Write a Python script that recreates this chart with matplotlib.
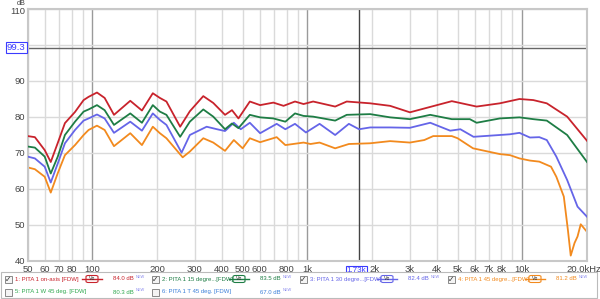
import matplotlib.pyplot as plt
import matplotlib.transforms as mtransforms
from matplotlib.patches import Rectangle, FancyBboxPatch

plt.rcParams['font.family'] = ['Liberation Sans', 'DejaVu Sans']

# --- data ---
f_red = [50, 54, 60, 64, 69, 74.5, 83, 91, 96, 105, 114, 126, 150, 170, 191, 206, 221, 256, 284, 328,
         365, 414, 446, 478, 540, 603, 695, 775, 876, 960, 1064, 1347, 1525, 1960, 2427, 3000, 4700,
         6130, 7860, 9700, 11250, 13000, 16170, 20000]
db_red = [74.7, 74.4, 70.8, 67.5, 72.8, 78.3, 81.4, 84.7, 85.6, 86.8, 85.3, 80.6, 84.5, 81.8, 86.6, 85.3,
          84.3, 77.3, 81.6, 85.8, 83.9, 80.6, 81.9, 79.6, 84.3, 83.3, 84.0, 83.1, 84.3, 83.6, 84.3, 82.9,
          84.3, 83.8, 83.1, 81.3, 84.4, 82.9, 83.8, 85.0, 84.7, 83.8, 80.1, 73.4]

f_green = [50, 54, 60, 64, 69, 74.5, 83, 91, 96, 105, 114, 126, 150, 170, 191, 206, 221, 256, 284, 328,
           365, 414, 446, 478, 540, 603, 695, 790, 876, 960, 1064, 1347, 1525, 1960, 2427, 3000, 3730,
           4700, 5700, 6130, 7860, 9700, 11250, 13000, 16170, 20000]
db_green = [71.8, 71.5, 69.0, 64.3, 69.0, 75.0, 78.7, 81.5, 82.1, 83.3, 81.9, 77.8, 81.0, 78.4, 83.3, 81.5,
            80.6, 74.5, 78.7, 82.1, 80.1, 76.6, 78.2, 76.9, 80.6, 79.9, 79.6, 78.7, 81.0, 80.3, 80.1, 79.0,
            80.6, 80.8, 79.9, 79.4, 80.6, 79.4, 79.4, 78.4, 79.6, 79.9, 79.4, 79.0, 75.0, 67.5]

f_blue = [50, 54, 60, 64, 69, 74.5, 83, 91, 96, 105, 114, 126, 150, 170, 191, 206, 221, 260, 284, 340,
          380, 414, 455, 490, 540, 603, 720, 790, 876, 985, 1140, 1347, 1560, 1740, 1960, 2427, 3000,
          3730, 4620, 5150, 5930, 7860, 8770, 9700, 10850, 12000, 13000, 14400, 16170, 18070, 20000]
db_blue = [69.0, 68.5, 66.2, 61.8, 67.1, 72.7, 76.4, 79.0, 79.6, 80.7, 79.6, 75.6, 78.7, 76.2, 81.0, 79.2,
           77.8, 70.1, 75.0, 77.3, 76.6, 76.1, 78.4, 76.6, 78.4, 75.5, 78.1, 76.6, 78.1, 75.7, 78.1, 75.0,
           78.1, 76.6, 77.1, 77.1, 77.0, 78.4, 76.2, 76.6, 74.5, 75.0, 75.2, 75.6, 74.3, 74.4, 73.6, 69.0,
           62.5, 55.1, 52.3]

f_orange = [50, 54, 60, 64, 69, 74.5, 83, 91, 96, 105, 114, 126, 150, 170, 191, 206, 221, 263, 284, 328,
            365, 414, 455, 500, 540, 603, 720, 790, 960, 1035, 1140, 1347, 1560, 1960, 2427, 3000, 3500,
            3850, 4700, 5000, 5900, 7860, 8770, 9700, 10850, 12000, 13600, 14400, 15600, 16300, 16800,
            17500, 18070, 18700, 20000]
db_orange = [66.0, 65.5, 63.4, 59.0, 64.4, 69.4, 72.2, 75.0, 76.4, 77.6, 76.4, 71.9, 75.5, 72.2, 77.3, 75.5,
             74.1, 68.8, 70.4, 74.1, 72.9, 70.6, 73.6, 71.3, 74.1, 73.0, 74.4, 72.2, 72.9, 72.5, 72.9, 71.3,
             72.5, 72.7, 73.3, 72.9, 73.6, 74.7, 74.7, 74.1, 71.3, 69.7, 69.4, 68.5, 67.9, 67.6, 66.2, 63.4,
             57.9, 48.6, 41.5, 45.0, 46.8, 50.2, 48.1]

tick_freqs = [50, 60, 70, 80, 100, 200, 300, 400, 500, 600, 800, 1000, 2000, 3000, 4000, 5000, 6000,
              7000, 8000, 10000, 20000]
tick_labels = ["50", "60", "70", "80", "100", "200", "300", "400", "500", "600", "800", "1k", "2k", "3k",
               "4k", "5k", "6k", "7k", "8k", "10k", "20.0kHz"]
grid_freqs = [50, 60, 70, 80, 90, 200, 300, 400, 500, 600, 700, 800, 900, 2000, 3000, 4000, 5000, 6000,
              7000, 8000, 9000, 20000]
decades = [100, 1000, 10000]
y_ticks = [40, 50, 60, 70, 80, 90, 110]

cursor_db = 99.3
cursor_f = 1730

legend_row1 = [("1: PITA 1 on-axis [FDW]", "84.0 dB", "#c8232c", True),
               ("2: PITA 1 15 degre...[FDW]", "83.5 dB", "#1e7d45", True),
               ("3: PITA 1 30 degre...[FDW]", "82.4 dB", "#6565e8", True),
               ("4: PITA 1 45 degre...[FDW]", "81.2 dB", "#f28a1e", True)]
legend_row2 = [("5: PITA 1 W 45 deg. [FDW]", "80.3 dB", "#2fa84f", False),
               ("6: PITA 1 T 45 deg. [FDW]", "67.0 dB", "#3a7fd8", False)]

# --- figure ---
fig = plt.figure(figsize=(6.0, 2.99), dpi=100)
W, H = 600.0, 299.0
ax = fig.add_axes([27.7 / W, 1 - 261 / H, (587 - 27.7) / W, (261 - 9) / H])
ax.set_xscale('log')
ax.set_xlim(50, 20000)
ax.set_ylim(40, 110)

for g in grid_freqs:
    ax.axvline(g, color="#dadada", lw=1.0, zorder=0)
for d in decades:
    ax.axvline(d, color="#9a9a9a", lw=1.0, zorder=0)
for y in range(40, 111, 10):
    ax.axhline(y, color="#dadada", lw=1.0, zorder=0)

ax.axhline(cursor_db, color="#666666", lw=1.0, zorder=1)
ax.axvline(cursor_f, color="#444444", lw=1.0, zorder=1)

ax.plot(f_red, db_red, color="#c8232c", lw=1.3, zorder=5)
ax.plot(f_green, db_green, color="#1e7d45", lw=1.3, zorder=4)
ax.plot(f_blue, db_blue, color="#6565e8", lw=1.3, zorder=3)
ax.plot(f_orange, db_orange, color="#f28a1e", lw=1.3, zorder=2)

ax.set_xticks(tick_freqs)
ax.set_xticklabels(tick_labels)
ax.minorticks_off()
ax.set_yticks(y_ticks)
ax.tick_params(length=0, labelsize=6.8, labelcolor="#444444", pad=3)
ax.tick_params(axis='y', pad=2)
for s in ax.spines.values():
    s.set_color("#c8c8c8")
    s.set_linewidth(1.5)
# last label ends near the right edge, like the reference
lab = ax.get_xticklabels()[-1]
lab.set_horizontalalignment('right')
lab.set_transform(lab.get_transform() + mtransforms.ScaledTranslation(10 / 72, 0, fig.dpi_scale_trans))
# "2k" nudged right a hair so the cursor box does not cover it
lab2k = ax.get_xticklabels()[12]
lab2k.set_transform(lab2k.get_transform() + mtransforms.ScaledTranslation(1.5 / 72, 0, fig.dpi_scale_trans))
# top y label sits a touch lower so the "dB" unit fits above it
top = ax.get_yticklabels()[-1]
top.set_transform(top.get_transform() + mtransforms.ScaledTranslation(0, -1.2 / 72, fig.dpi_scale_trans))

fig.text(21 / W, 1 - 0 / H, "dB", ha='center', va='top', fontsize=5.2, color="#444444")

# cursor read-outs
ax.text(-0.004, cursor_db, "99.3", transform=ax.get_yaxis_transform(), ha='right', va='center',
        fontsize=6.8, color="#3b3bff",
        bbox=dict(boxstyle="square,pad=0.12", fc="white", ec="#3b3bff", lw=0.8))
ck = ax.text(cursor_f, -0.022, "1.73k", transform=ax.get_xaxis_transform(), ha='center', va='top',
             fontsize=5.8, color="#3b3bff",
             bbox=dict(boxstyle="square,pad=0.08", fc="white", ec="#3b3bff", lw=0.8))
ck.set_transform(ck.get_transform() + mtransforms.ScaledTranslation(-1.5 / 72, 0, fig.dpi_scale_trans))

# --- legend panel ---
fig.patches.append(Rectangle((1 / W, 1 - 298 / H), 596 / W, 26 / H, transform=fig.transFigure,
                             fc="white", ec="#bbbbbb", lw=0.8))


def fx(x):
    return x / W


def fy(y):
    return 1 - y / H


def entry(x0, y, name, level, color, checked, vbox):
    fig.patches.append(Rectangle((fx(x0), fy(y + 3.5)), 7 / W, 7 / H, transform=fig.transFigure,
                                 fc="#f4f4f4", ec="#777777", lw=0.6))
    if checked:
        fig.text(fx(x0 + 3.5), fy(y), "\u2713", ha='center', va='center', fontsize=5.5, color="#333333",
                 family='DejaVu Sans')
    fig.text(fx(x0 + 10), fy(y), name, ha='left', va='center', fontsize=4.3, color=color)
    if vbox:
        vx = x0 + 77
        fig.lines.append(plt.Line2D([fx(vx), fx(vx + 20)], [fy(y), fy(y)], transform=fig.transFigure,
                                    color=color, lw=1.0))
        fig.patches.append(FancyBboxPatch((fx(vx + 4), fy(y + 3.5)), 12 / W, 7 / H,
                                          boxstyle="round,pad=0,rounding_size=0.004",
                                          transform=fig.transFigure, fc="white", ec=color, lw=0.8))
        fig.text(fx(vx + 10), fy(y), "V\u2261", ha='center', va='center', fontsize=3.6, color="#333333")
    fig.text(fx(x0 + 108), fy(y), level, ha='left', va='center', fontsize=4.3, color=color)
    fig.text(fx(x0 + 131), fy(y - 2), "NEW", ha='left', va='center', fontsize=2.8, color="#8888ee")


row1_x = [5, 152, 300, 448]
for (name, level, color, chk), x0 in zip(legend_row1, row1_x):
    entry(x0, 279, name, level, color, chk, True)
row2_x = [5, 152]
for (name, level, color, chk), x0 in zip(legend_row2, row2_x):
    entry(x0, 292, name, level, color, chk, False)

fig.savefig("out.png", dpi=100)
